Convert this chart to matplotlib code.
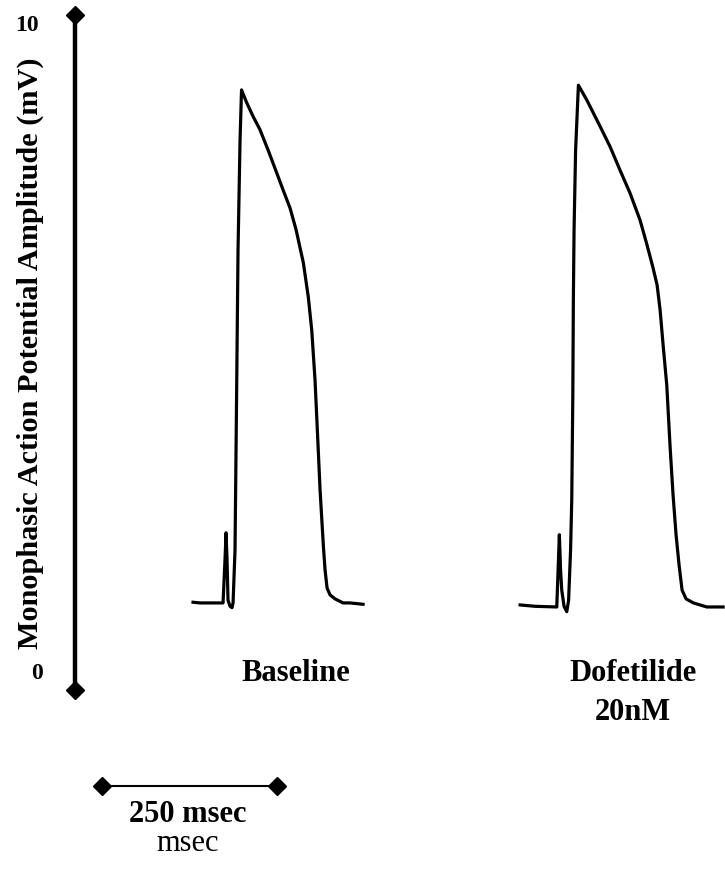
import matplotlib
matplotlib.use("Agg")
import matplotlib.pyplot as plt

# ---- data (time in msec, amplitude in mV) ----
baseline_t = [130.4, 140.4, 154.7, 173.3, 176.1, 177.6, 179.0, 180.4, 183.3, 186.1,
              187.6, 190.4, 192.6, 194.7, 197.6, 199.7, 207.1, 216.1, 226.1, 237.6,
              250.0, 259.0, 269.0, 277.6, 283.3, 288.0, 295.1, 300.0, 304.7, 308.0,
              311.9, 316.7, 319.0, 321.9, 326.1, 333.3, 344.7, 354.7, 373.3]
baseline_v = [1.30, 1.29, 1.29, 1.29, 1.93, 2.33, 1.93, 1.33, 1.24, 1.22,
              1.29, 2.07, 4.30, 6.52, 8.15, 8.89, 8.70, 8.50, 8.30, 8.00,
              7.66, 7.41, 7.14, 6.82, 6.55, 6.33, 5.82, 5.33, 4.59, 3.85,
              2.96, 2.12, 1.78, 1.51, 1.41, 1.35, 1.29, 1.29, 1.27]

dofetilide_t = [597.6, 619.0, 650.0, 651.9, 653.7, 655.4, 657.1, 660.4, 664.3, 666.9,
                669.7, 671.4, 672.9, 673.7, 674.7, 676.9, 680.9, 692.9, 711.9, 726.1,
                740.4, 754.7, 769.0, 779.0, 787.6, 793.3, 797.6, 801.9, 807.1, 811.9,
                816.1, 820.4, 824.7, 829.0, 834.7, 845.1, 864.3, 887.6]
dofetilide_v = [1.26, 1.24, 1.23, 1.78, 2.30, 1.78, 1.48, 1.24, 1.16, 1.33,
                2.07, 2.82, 4.34, 5.78, 6.82, 8.00, 8.96, 8.74, 8.35, 8.05,
                7.70, 7.36, 6.96, 6.59, 6.25, 6.00, 5.63, 5.11, 4.52, 3.60,
                2.89, 2.30, 1.85, 1.48, 1.35, 1.29, 1.23, 1.23]

y_range = [0, 10]
y_tick_labels = ["0", "10"]
scale_bar_ms = [0, 250]
condition_labels = ["Baseline", "Dofetilide", "20nM"]

serif = ["Liberation Serif", "DejaVu Serif"]

fig = plt.figure(figsize=(7.25, 8.73), dpi=100)
ax = fig.add_axes([0, 0, 1, 1])
ax.set_xlim(-145.3, 890.3)
ax.set_ylim(-2.711, 10.222)
ax.axis("off")

# traces
ax.plot(baseline_t, baseline_v, color="black", lw=2.3, solid_joinstyle="round")
ax.plot(dofetilide_t, dofetilide_v, color="black", lw=2.3, solid_joinstyle="round")

# vertical amplitude axis
axis_x = -38.1
ax.plot([axis_x, axis_x], y_range, color="black", lw=3.2, marker="D",
        markersize=9, markerfacecolor="black", markeredgecolor="black")
ax.text(-106.7, 9.85, y_tick_labels[1], fontsize=17, fontweight="bold",
        family=serif, ha="center", va="center")
ax.text(-92.4, 0.25, y_tick_labels[0], fontsize=17, fontweight="bold",
        family=serif, ha="center", va="center")
ax.text(-102, 4.99, "Monophasic Action Potential Amplitude (mV)", fontsize=21.8,
        fontweight="bold", family=serif, rotation=90, ha="center", va="center")

# condition labels
ax.text(277.6, 0.25, condition_labels[0], fontsize=22, fontweight="bold",
        family=serif, ha="center", va="center")
ax.text(759, 0.25, condition_labels[1], fontsize=22, fontweight="bold",
        family=serif, ha="center", va="center")
ax.text(759, -0.33, condition_labels[2], fontsize=22, fontweight="bold",
        family=serif, ha="center", va="center")

# scale bar
bar_y = -1.422
ax.plot(scale_bar_ms, [bar_y, bar_y], color="black", lw=1.5, marker="D",
        markersize=9, markerfacecolor="black", markeredgecolor="black")
ax.text(123.3, -1.85, "250 msec", fontsize=22, fontweight="bold", family=serif,
        ha="center", va="center")
ax.text(123.3, -2.27, "msec", fontsize=22, family=serif, ha="center", va="center")

fig.savefig("out.png", dpi=100)
